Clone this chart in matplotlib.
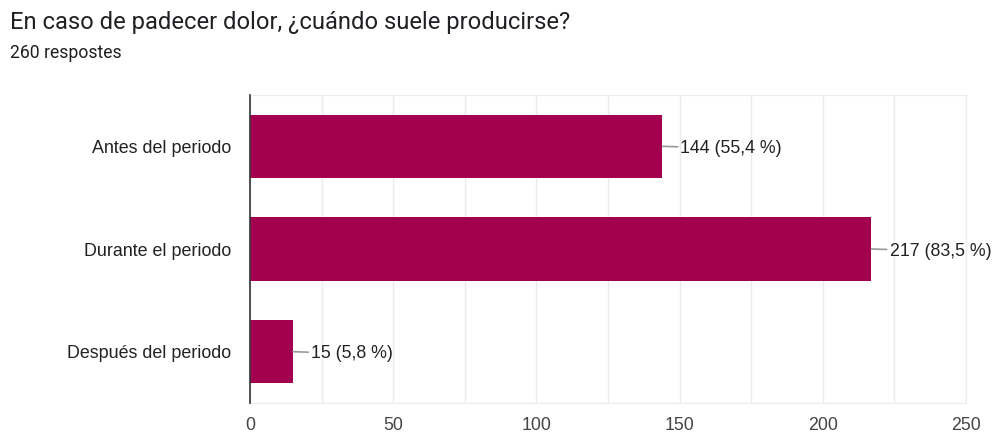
import numpy as np
import matplotlib.pyplot as plt
from matplotlib.ticker import MultipleLocator

# survey answers, top to bottom
categories = ["Antes del periodo", "Durante el periodo", "Después del periodo"]
counts = [144, 217, 15]
percents = ["55,4", "83,5", "5,8"]
total = 260

bar_color = "#a3004f"

fig = plt.figure(figsize=(9.94, 4.32), dpi=100)
ax = fig.add_axes([0.2515, 0.0671, 0.7203, 0.713])

y = np.arange(len(categories))
ax.barh(y, counts, height=0.615, color=bar_color, zorder=3)

ax.set_ylim(len(categories) - 0.5, -0.5)
ax.set_xlim(0, 250)
ax.set_yticks(y)
ax.set_yticklabels(categories, fontsize=12.9, color="#222222", family="Liberation Sans")
ax.xaxis.set_major_locator(MultipleLocator(50))
ax.xaxis.set_minor_locator(MultipleLocator(25))
ax.tick_params(axis="x", which="both", length=0, pad=10, labelsize=12.8,
               labelcolor="#444444")
ax.tick_params(axis="y", length=0, pad=13.5)
for lab in ax.get_xticklabels():
    lab.set_family("Liberation Sans")

ax.grid(axis="x", which="both", color="#ebebeb", lw=1, zorder=0)
for side in ["top", "right", "bottom"]:
    ax.spines[side].set_color("#ebebeb")
ax.spines["left"].set_color("#333333")
ax.spines["left"].set_linewidth(1.2)
ax.spines["left"].set_zorder(4)

# value labels with a short leader line
for yi, c, p in zip(y, counts, percents):
    ax.annotate(f"{c} ({p} %)", xy=(c, yi), xytext=(13, 0),
                textcoords="offset points", va="center_baseline", ha="left",
                fontsize=12.8, color="#222222", family="Liberation Sans",
                arrowprops=dict(arrowstyle="-", color="#999999", lw=1.2,
                                shrinkA=0, shrinkB=0))

fig.text(0.0101, 0.948, "En caso de padecer dolor, ¿cuándo suele producirse?",
         fontsize=17.1, color="#202124", family="Roboto", va="center")
fig.text(0.0101, 0.877, f"{total} respostes", fontsize=12.7,
         color="#202124", family="Roboto", va="center")

fig.savefig("out.png", dpi=100)
